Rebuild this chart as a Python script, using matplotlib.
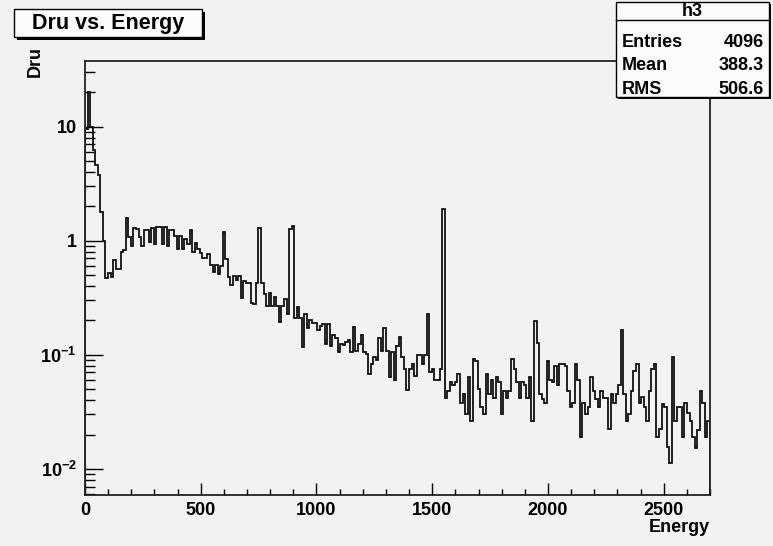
import numpy as np
import matplotlib
matplotlib.use('Agg')
import matplotlib.pyplot as plt
from matplotlib.patches import Rectangle
from matplotlib.ticker import MultipleLocator, LogLocator, FuncFormatter, NullFormatter

# bin contents (ROOT histogram "h3"), 245 bins over 0..2700
peak_region = [9.5, 20.0, 10.0, 6.2, 4.6, 3.8, 1.8, 1.0, 0.467, 0.517,
               0.48, 0.68, 0.57, 0.56, 0.80, 0.83, 1.57, 1.08, 0.89, 1.29,
               1.27, 1.08, 0.90, 1.25, 1.25, 0.98, 1.29, 0.93, 1.33, 1.33,
               0.93, 1.33, 0.89, 1.25, 1.25, 1.10, 0.85, 1.10, 0.85, 1.03, 0.93,
               1.25, 0.80, 0.96, 0.85, 0.78, 0.70, 0.70, 0.76, 0.61, 0.53,
               0.61, 0.51, 0.60, 1.20, 0.69, 0.48, 0.41, 0.49, 0.45, 0.49, 0.315,
               0.44, 0.43, 0.43, 0.285, 0.28, 0.43, 1.30, 0.43, 0.34, 0.266,
               0.35, 0.266, 0.32, 0.27, 0.194, 0.266, 0.31, 0.227, 1.26, 1.35]
mid_region = [0.208, 0.26, 0.208, 0.118, 0.227, 0.173, 0.2, 0.19, 0.19, 0.164,
              0.178, 0.185, 0.125, 0.185, 0.12, 0.15, 0.14,
              0.106, 0.125, 0.121, 0.129, 0.134, 0.106, 0.175, 0.109, 0.125, 0.148,
              0.106, 0.102, 0.068, 0.0835, 0.0955, 0.0893, 0.141, 0.109, 0.173, 0.109,
              0.0637, 0.106, 0.0604, 0.1186, 0.143, 0.0955, 0.0755, 0.0493, 0.0755, 0.0835,
              0.0646, 0.0988, 0.0988, 0.0835, 0.0988, 0.2266, 0.0705, 0.0755, 0.0604, 0.0604,
              0.0755]
line_1550 = [1.89]
tail_region = [0.042, 0.0486, 0.0575, 0.0538, 0.0575, 0.068, 0.0376, 0.0455, 0.0303, 0.0645,
               0.0265, 0.091, 0.089, 0.0503, 0.0347, 0.0303, 0.068, 0.0455, 0.060, 0.042,
               0.0637, 0.0575, 0.0303, 0.0486, 0.042, 0.0486, 0.091, 0.0755, 0.0575, 0.042,
               0.0575, 0.0538, 0.042, 0.0637, 0.0265, 0.198, 0.128, 0.0455, 0.0411, 0.0376,
               0.088, 0.060, 0.0575, 0.079, 0.0538, 0.0835, 0.0835, 0.079, 0.0486, 0.0347,
               0.0376, 0.0835, 0.060, 0.0191, 0.0376, 0.0303, 0.0347, 0.0637, 0.0486, 0.0411,
               0.0347, 0.0486, 0.042, 0.042, 0.0224, 0.0455, 0.0376, 0.0455, 0.0538, 0.164,
               0.0455, 0.0265, 0.0303, 0.0486, 0.072, 0.0835, 0.0376, 0.0425, 0.0347, 0.0265,
               0.0486, 0.0755, 0.0835, 0.0191, 0.0224, 0.0371, 0.0347, 0.0154, 0.0112,
               0.0956, 0.0265, 0.0347, 0.0347, 0.019, 0.0376, 0.031, 0.0265, 0.019, 0.0152,
               0.022, 0.0486, 0.0376, 0.019, 0.0265]

x_range = (0, 2700)
stats_labels = ['Entries', 'Mean', 'RMS']
stats_values = ['4096', '388.3', '506.6']

counts = np.array(peak_region + mid_region + line_1550 + tail_region)
edges = np.linspace(x_range[0], x_range[1], len(counts) + 1)

BG = '#f2f2f2'
W, H = 773, 546

plt.rcParams['font.family'] = ['Liberation Sans', 'DejaVu Sans']
plt.rcParams['font.weight'] = 'bold'
plt.rcParams['mathtext.fontset'] = 'custom'
plt.rcParams['mathtext.rm'] = 'Liberation Sans:bold'
plt.rcParams['mathtext.it'] = 'Liberation Sans:bold'
plt.rcParams['mathtext.bf'] = 'Liberation Sans:bold'


def fx(px):
    return px / W


def fy(py):
    return 1 - py / H


def pave(x0, y0, x1, y1, shadow=3):
    # ROOT style box with a black drop shadow
    fig.add_artist(Rectangle((fx(x0 + shadow), fy(y1 + shadow)), fx(x1 - x0), (y1 - y0) / H,
                             transform=fig.transFigure, facecolor='black', edgecolor='none'))
    fig.add_artist(Rectangle((fx(x0), fy(y1)), fx(x1 - x0), (y1 - y0) / H,
                             transform=fig.transFigure, facecolor='#fbfbfb',
                             edgecolor='black', linewidth=1))


fig = plt.figure(figsize=(W / 100, H / 100), dpi=100, facecolor=BG)
ax = fig.add_axes([fx(85), fy(495), fx(710 - 85), (495 - 61) / H])
ax.set_facecolor(BG)

ax.stairs(counts, edges, color='#111111', linewidth=1.3)

ax.set_yscale('log')
ax.set_xlim(*x_range)
ax.set_ylim(0.0059, 37.6)

ax.xaxis.set_major_locator(MultipleLocator(500))
ax.xaxis.set_minor_locator(MultipleLocator(100))
ax.yaxis.set_major_locator(LogLocator(base=10))
ax.yaxis.set_minor_locator(LogLocator(base=10, subs=range(2, 10)))
ax.yaxis.set_minor_formatter(NullFormatter())


def ylab(v, pos):
    e = int(round(np.log10(v)))
    if e == 1:
        return '10'
    if e == 0:
        return '1'
    return r'$10^{%d}$' % e


ax.yaxis.set_major_formatter(FuncFormatter(ylab))

ax.tick_params(axis='x', which='major', direction='in', length=8.6, width=1,
               labelsize=13, pad=5, top=False)
ax.tick_params(axis='x', which='minor', direction='in', length=4.3, width=1, top=False)
ax.tick_params(axis='y', which='major', direction='in', length=13, width=1,
               labelsize=13, pad=6, right=False)
ax.tick_params(axis='y', which='minor', direction='in', length=7, width=1, right=False)
for s in ax.spines.values():
    s.set_linewidth(1.3)
    s.set_color('#222222')

fig.text(fx(710), fy(528), 'Energy', ha='right', va='center', fontsize=13, weight='bold')
fig.text(fx(35), fy(46), 'Dru', rotation=90, ha='center', va='top', fontsize=13, weight='bold')

# title pave
pave(14, 9, 202, 37)
fig.text(fx(108), fy(23), 'Dru vs. Energy', ha='center', va='center', fontsize=15.5, weight='bold')

# stats pave
pave(616, 2, 769, 97, shadow=2)
fig.add_artist(plt.Line2D([fx(616), fx(769)], [fy(20), fy(20)], transform=fig.transFigure,
                          color='black', linewidth=1))
fig.text(fx(692), fy(11), 'h3', ha='center', va='center', fontsize=13, weight='bold')
for i, (lab, val) in enumerate(zip(stats_labels, stats_values)):
    yy = 43 + i * 23
    fig.text(fx(622), fy(yy), lab, ha='left', va='center', fontsize=13, weight='bold')
    fig.text(fx(764), fy(yy), val, ha='right', va='center', fontsize=13, weight='bold')

fig.savefig('out.png', dpi=100, facecolor=BG)
